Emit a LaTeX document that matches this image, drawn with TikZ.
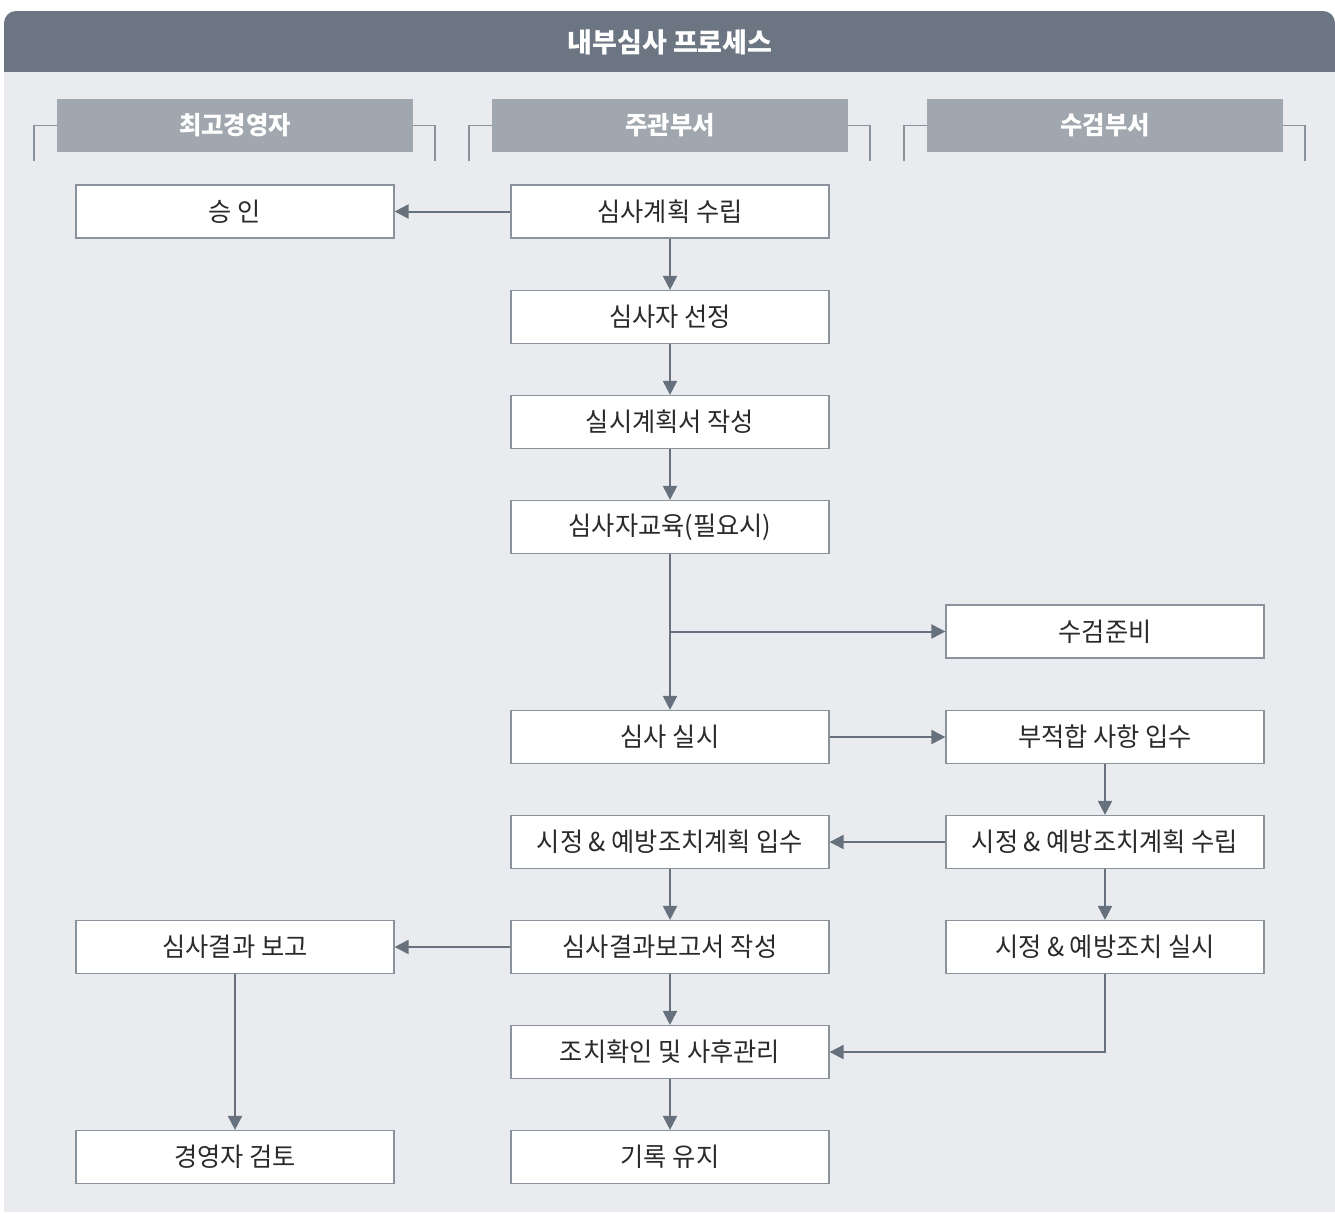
\documentclass[tikz,border=0pt]{standalone}
\usepackage{fontspec}
\setmainfont{Noto Sans CJK KR}[FakeStretch=0.97]
\newfontfamily\titlekr{Noto Sans CJK KR}[FakeStretch=1.0]
\usetikzlibrary{arrows.meta}
\definecolor{headc}{HTML}{6B7682}
\definecolor{lanec}{HTML}{A0A7AF}
\definecolor{panelbg}{HTML}{E9EBEE}
\definecolor{boxline}{HTML}{8A929B}
\definecolor{arrowc}{HTML}{66717D}
\definecolor{txt}{HTML}{2A2A2A}
\tikzset{
  procbox/.style={draw=boxline, line width=1.2pt, fill=white, minimum width=318pt, minimum height=53pt, inner sep=0pt, text=txt, font=\fontsize{26}{30}\selectfont},
  lanebox/.style={fill=lanec, minimum width=356pt, minimum height=53pt, inner sep=0pt, text=white, font=\fontsize{25}{29}\selectfont\bfseries},
  bracket/.style={draw=boxline, line width=1.2pt},
  flow/.style={draw=arrowc, line width=2pt, -{Triangle[length=14pt,width=14pt]}}
}
\begin{document}
\begin{tikzpicture}[x=1pt,y=-1pt]
\useasboundingbox (0,0) rectangle (1335,1213);
% panel
\fill[headc, rounded corners=12pt] (4,11) rectangle (1335,110);
\fill[panelbg] (4,72) rectangle (1335,1212);
\node[text=white, font=\titlekr\fontsize{27}{31}\selectfont\bfseries] (title) at (670,42) {내부심사 프로세스};
% lane headers
\node[lanebox] (lane1) at (235,125.5) {최고경영자};
\node[lanebox] (lane2) at (670,125.5) {주관부서};
\node[lanebox] (lane3) at (1105,125.5) {수검부서};
\draw[bracket] (34,161) |- (lane1.west);
\draw[bracket] (lane1.east) -| (435,161);
\draw[bracket] (469,161) |- (lane2.west);
\draw[bracket] (lane2.east) -| (870,161);
\draw[bracket] (904,161) |- (lane3.west);
\draw[bracket] (lane3.east) -| (1305,161);
% boxes
\node[procbox] (approve) at (235,211.5) {승 인};
\node[procbox] (plan) at (670,211.5) {심사계획 수립};
\node[procbox] (select) at (670,317) {심사자 선정};
\node[procbox] (write) at (670,422) {실시계획서 작성};
\node[procbox] (edu) at (670,527) {심사자교육(필요시)};
\node[procbox] (prep) at (1105,631.5) {수검준비};
\node[procbox] (audit) at (670,737) {심사 실시};
\node[procbox] (nonconf) at (1105,737) {부적합 사항 입수};
\node[procbox] (receive) at (670,842) {시정 \& 예방조치계획 입수};
\node[procbox] (plan2) at (1105,842) {시정 \& 예방조치계획 수립};
\node[procbox] (resultrep) at (235,947) {심사결과 보고};
\node[procbox] (report) at (670,947) {심사결과보고서 작성};
\node[procbox] (exec) at (1105,947) {시정 \& 예방조치 실시};
\node[procbox] (confirm) at (670,1052) {조치확인 및 사후관리};
\node[procbox] (review) at (235,1157) {경영자 검토};
\node[procbox] (record) at (670,1157) {기록 유지};
\coordinate (branch) at (670,631.5);
% connectors
\draw[flow] (plan) -- (approve);
\draw[flow] (plan) -- (select);
\draw[flow] (select) -- (write);
\draw[flow] (write) -- (edu);
\draw[flow] (edu) -- (audit);
\draw[flow] (branch) -- (prep);
\draw[flow] (audit) -- (nonconf);
\draw[flow] (nonconf) -- (plan2);
\draw[flow] (plan2) -- (receive);
\draw[flow] (plan2) -- (exec);
\draw[flow] (receive) -- (report);
\draw[flow] (report) -- (resultrep);
\draw[flow] (report) -- (confirm);
\draw[flow] (exec.south) |- (confirm.east);
\draw[flow] (confirm) -- (record);
\draw[flow] (resultrep) -- (review);
\end{tikzpicture}
\end{document}
